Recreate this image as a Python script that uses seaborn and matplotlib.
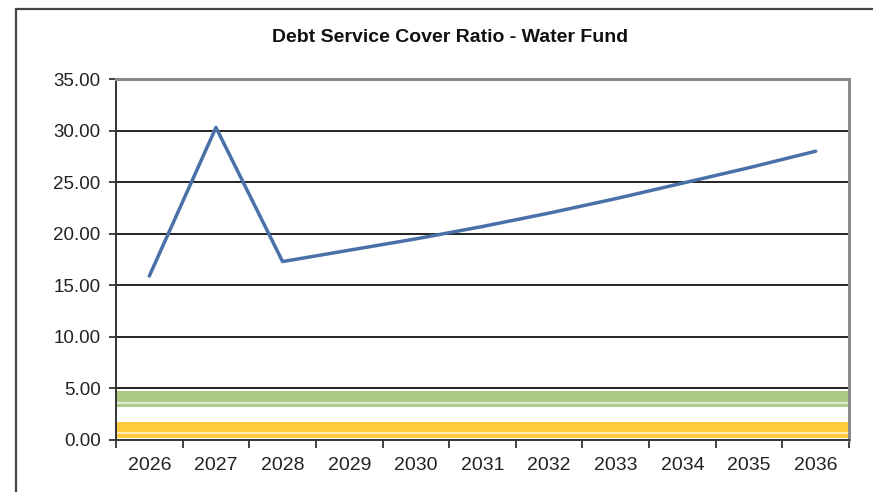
import matplotlib
matplotlib.use("Agg")
import matplotlib.pyplot as plt
from matplotlib.lines import Line2D
from matplotlib.ticker import FixedLocator, NullFormatter, FixedFormatter
import seaborn as sns
import pandas as pd

# Debt service cover ratio, water fund
years = ["2026", "2027", "2028", "2029", "2030", "2031",
         "2032", "2033", "2034", "2035", "2036"]
dscr = [15.9, 30.3, 17.3, 18.4, 19.5, 20.7, 22.0, 23.4, 24.9, 26.4, 28.0]

# Benchmark levels shown as horizontal bands
green_level = 4.0
yellow_level = 1.0

y_ticks = [0, 5, 10, 15, 20, 25, 30, 35]

sns.set_theme(style="white")
plt.rcParams["font.family"] = ["Liberation Sans", "DejaVu Sans"]

fig = plt.figure(figsize=(8.73, 4.92), dpi=100)
ax = fig.add_axes([116 / 873, 1 - 440 / 492, (849 - 116) / 873, (440 - 79) / 492])

df = pd.DataFrame({"year": years, "dscr": dscr})

# gridlines
for v in y_ticks[1:]:
    ax.axhline(v, color="#222222", lw=1.4, zorder=1)

# benchmark bands
ax.axhline(green_level, color="#AECB86", lw=11.5, zorder=2, solid_capstyle="butt")
ax.axhline(green_level - 0.45, color="#E6F0DA", lw=1.5, zorder=2.1, alpha=0.9)
ax.axhline(yellow_level, color="#FFCC3A", lw=11.5, zorder=2, solid_capstyle="butt")
ax.axhline(yellow_level - 0.3, color="#FFF0C0", lw=1.5, zorder=2.1, alpha=0.9)

sns.lineplot(data=df, x="year", y="dscr", ax=ax, color="#4A70A8",
             linewidth=2.5, zorder=3, sort=False)

ax.set_xlim(-0.5, len(years) - 0.5)
ax.set_ylim(0, 35)
ax.set_xlabel("")
ax.set_ylabel("")

ax.yaxis.set_major_locator(FixedLocator(y_ticks))
ax.set_yticklabels([f"{v:.2f}" for v in y_ticks])

# ticks at category boundaries, labels centred under categories
ax.xaxis.set_major_locator(FixedLocator([i - 0.5 for i in range(len(years) + 1)]))
ax.xaxis.set_major_formatter(NullFormatter())
ax.xaxis.set_minor_locator(FixedLocator(list(range(len(years)))))
ax.xaxis.set_minor_formatter(FixedFormatter(years))

ax.tick_params(axis="x", which="major", direction="out", length=6, width=1.2,
               color="#222222", bottom=True)
ax.tick_params(axis="x", which="minor", length=0, pad=12, labelsize=14,
               labelcolor="#222222", bottom=True)
ax.tick_params(axis="y", direction="out", length=5, width=1.2, color="#222222",
               labelsize=13.5, labelcolor="#222222", pad=6, left=True)

for side in ("left", "bottom"):
    ax.spines[side].set_color("#333333")
    ax.spines[side].set_linewidth(1.4)
for side in ("top", "right"):
    ax.spines[side].set_color("#8A8A8A")
    ax.spines[side].set_linewidth(2.2)
    ax.spines[side].set_visible(True)

fig.text(450 / 873, 1 - 38 / 492, "Debt Service Cover Ratio - Water Fund",
         ha="center", va="center", fontsize=14, fontweight="bold", color="#111111")

# outer chart frame
fx, fy = 16 / 873, 1 - 9 / 492
fig.add_artist(Line2D([fx, fx], [0, fy], transform=fig.transFigure,
                      color="#444444", lw=1.6))
fig.add_artist(Line2D([fx, 1], [fy, fy], transform=fig.transFigure,
                      color="#444444", lw=1.6))

fig.savefig("out.png", dpi=100)
